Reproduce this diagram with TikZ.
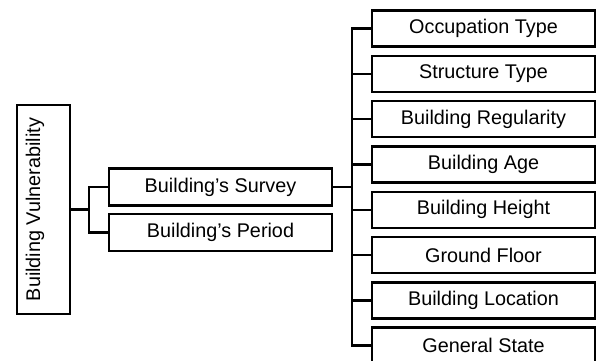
\documentclass[tikz,border=0pt]{standalone}
\usepackage{fontspec}
\setmainfont{Liberation Sans}
\begin{document}
\begin{tikzpicture}[x=1pt,y=-1pt,
  box/.style={draw=black,line width=2.4pt,rectangle,inner sep=0pt,font=\fontsize{19.8}{22}\selectfont},
  rbox/.style={box,minimum width=223pt,minimum height=36pt},
  mbox/.style={box,minimum width=223pt,minimum height=37pt},
  conn/.style={line width=2.4pt,draw=black}]
\useasboundingbox (0,0) rectangle (597,360);
\node[box,minimum width=53pt,minimum height=209pt] (bv) at (43.5,209.5) {};
\node[rotate=90,font=\fontsize{19.8}{22}\selectfont,inner sep=0pt] (bvt) at (35,209.5) {Building Vulnerability};
\node[mbox] (sv) at (220.5,187) {Building’s Survey};
\node[mbox] (pd) at (220.5,232.5) {Building’s Period};
\foreach \i/\t in {1/Occupation Type,2/Structure Type,3/Building Regularity,4/Building Age,5/Building Height,6/Ground Floor,7/Building Location,8/General State}{
  \node[rbox] (b\i) at (483.5,{28.5+45.3*(\i-1)}) {\t};
}
\coordinate (bj) at (89,209.5);
\coordinate (spx) at (352,0);
\draw[conn] (bv.east) -- (bj);
\draw[conn] (sv.west) -| (bj) |- (pd.west);
\draw[conn] (sv.east) -- (sv.east -| spx);
\draw[conn] (b1.west) -| (spx |- b8.west) -- (b8.west);
\foreach \i in {2,...,7}{
  \draw[conn] (b\i.west) -- (b\i.west -| spx);
}
\end{tikzpicture}
\end{document}
